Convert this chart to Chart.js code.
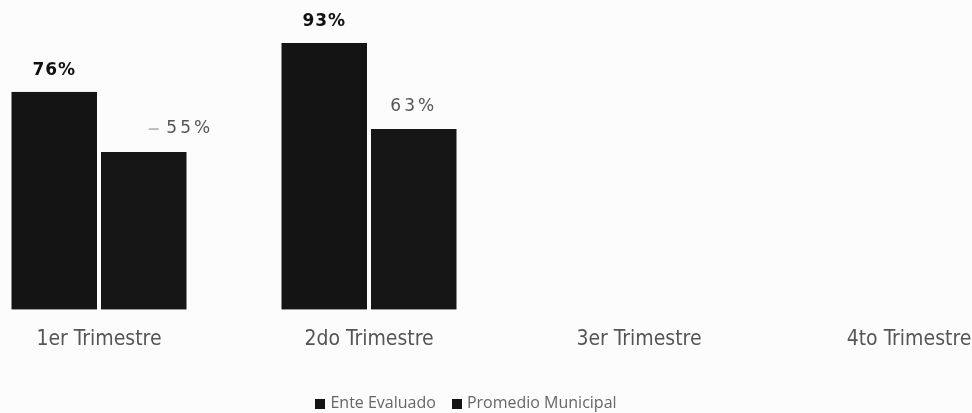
<!DOCTYPE html>
<html>
<head>
<meta charset="utf-8">
<script src="https://cdn.jsdelivr.net/npm/chart.js@4"></script>
<style>
    html, body { margin: 0; padding: 0; background: #fcfcfc; overflow: hidden; }
    body { width: 972px; height: 413px; position: relative; }
    #wrap { position: absolute; left: -36px; top: 0; width: 1080px; height: 413px; }
    #legend { position: absolute; top: 391px; left: 0; width: 932px; text-align: center;
        font: 16px "Open Sans", sans-serif; color: #666; white-space: nowrap; }
    #legend span { display: inline-block; margin: 0 8px; }
    #legend i { display: inline-block; width: 10px; height: 10px; background: #141414; margin-right: 5px; vertical-align: -1px; }
</style>
</head>
<body>
<div id="wrap"><canvas id="chart"></canvas></div>
<div id="legend"></div>
<script>
// datos
const trimestres = ['1er Trimestre', '2do Trimestre', '3er Trimestre', '4to Trimestre'];
const serieNombres = ['Ente Evaluado', 'Promedio Municipal'];
const enteEvaluado = [76, 93, null, null];
const promedioMunicipal = [55, 63, null, null];

// estilo de las etiquetas de valor por serie
const labelStyle = [
    { font: 'bold 17px "DejaVu Sans"', color: '#111', spacing: '1px', gap: 21 },
    { font: '17px "DejaVu Sans"', color: '#555', spacing: '3px', gap: 23 }
];
// el 55% queda desplazado a la derecha con una rayita guía
const labelNudge = { '1,0': 46 };

const valueLabels = {
    id: 'valueLabels',
    afterDatasetsDraw(chart) {
        const ctx = chart.ctx;
        chart.data.datasets.forEach((ds, di) => {
            const meta = chart.getDatasetMeta(di);
            const st = labelStyle[di];
            meta.data.forEach((el, i) => {
                const v = ds.data[i];
                if (v == null) return;
                const dx = labelNudge[di + ',' + i] || 0;
                const x = el.x + dx, y = el.y - st.gap;
                ctx.save();
                ctx.font = st.font;
                ctx.fillStyle = st.color;
                ctx.letterSpacing = st.spacing;
                ctx.textAlign = 'center';
                ctx.textBaseline = 'middle';
                ctx.fillText(v + '%', x, y);
                if (dx) {
                    ctx.strokeStyle = '#aaa';
                    ctx.lineWidth = 1.5;
                    ctx.beginPath();
                    ctx.moveTo(x - 41, y);
                    ctx.lineTo(x - 31, y);
                    ctx.stroke();
                }
                ctx.restore();
            });
        });
    }
};

new Chart(document.getElementById('chart'), {
    type: 'bar',
    data: {
        labels: trimestres,
        datasets: [
            { label: serieNombres[0], data: enteEvaluado, backgroundColor: '#141414',
              borderColor: '#fcfcfc', borderWidth: { left: 2, right: 2, top: 0, bottom: 0 }, borderSkipped: false },
            { label: serieNombres[1], data: promedioMunicipal, backgroundColor: '#161616',
              borderColor: '#fcfcfc', borderWidth: { left: 2, right: 2, top: 0, bottom: 0 }, borderSkipped: false }
        ]
    },
    options: {
        responsive: true, maintainAspectRatio: false, animation: false,
        layout: { padding: { top: 23, bottom: 44, left: 0, right: 0 } },
        datasets: { bar: { categoryPercentage: 0.663, barPercentage: 1 } },
        plugins: { legend: { display: false }, tooltip: { enabled: false } },
        scales: {
            x: {
                grid: { display: false, drawTicks: false }, border: { display: false },
                ticks: { padding: 17, color: '#555', maxRotation: 0,
                         font: { family: '"Liberation Sans Narrow", "DejaVu Sans Condensed", sans-serif', size: 21 } }
            },
            y: { display: false, min: 0, max: 100 }
        }
    },
    plugins: [valueLabels]
});

// leyenda
document.getElementById('legend').innerHTML = serieNombres
    .map(n => `<span><i></i>${n}</span>`).join('');
</script>
</body>
</html>
